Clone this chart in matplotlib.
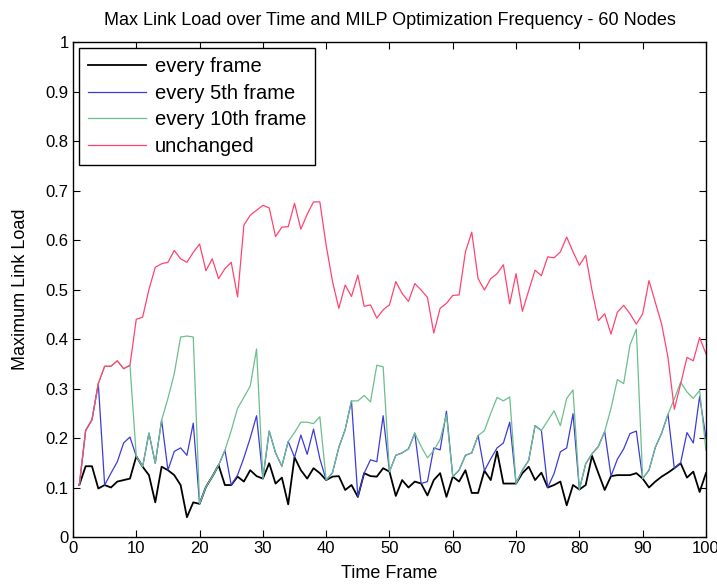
import matplotlib
matplotlib.use("Agg")
import matplotlib.pyplot as plt

frames = list(range(1, 101))

every_frame = [
    0.105, 0.143, 0.143, 0.098, 0.105, 0.100, 0.112, 0.115, 0.118, 0.163,
    0.142, 0.125, 0.070, 0.142, 0.135, 0.125, 0.105, 0.040, 0.070, 0.067,
    0.101, 0.122, 0.145, 0.105, 0.105, 0.122, 0.112, 0.135, 0.123, 0.118,
    0.149, 0.108, 0.120, 0.066, 0.161, 0.135, 0.118, 0.139, 0.129, 0.115,
    0.122, 0.123, 0.095, 0.105, 0.081, 0.129, 0.123, 0.122, 0.139, 0.132,
    0.083, 0.115, 0.100, 0.112, 0.108, 0.084, 0.115, 0.129, 0.081, 0.122,
    0.112, 0.135, 0.089, 0.089, 0.134, 0.115, 0.173, 0.108, 0.108, 0.108,
    0.129, 0.142, 0.115, 0.130, 0.100, 0.105, 0.112, 0.064, 0.105, 0.096,
    0.105, 0.164, 0.129, 0.095, 0.123, 0.125, 0.125, 0.125, 0.129, 0.118,
    0.100, 0.112, 0.122, 0.130, 0.139, 0.149, 0.120, 0.132, 0.091, 0.129,
]

every_5th = [
    0.105, 0.215, 0.237, 0.310, 0.105, 0.129, 0.152, 0.190, 0.202, 0.163,
    0.142, 0.210, 0.149, 0.236, 0.135, 0.173, 0.180, 0.165, 0.230, 0.067,
    0.101, 0.122, 0.145, 0.175, 0.105, 0.125, 0.160, 0.200, 0.245, 0.118,
    0.214, 0.170, 0.143, 0.193, 0.161, 0.206, 0.167, 0.218, 0.158, 0.115,
    0.130, 0.181, 0.217, 0.275, 0.081, 0.129, 0.156, 0.152, 0.245, 0.132,
    0.165, 0.170, 0.178, 0.210, 0.108, 0.112, 0.180, 0.176, 0.254, 0.122,
    0.135, 0.165, 0.170, 0.205, 0.134, 0.158, 0.180, 0.190, 0.232, 0.108,
    0.135, 0.155, 0.225, 0.215, 0.100, 0.128, 0.172, 0.180, 0.249, 0.096,
    0.148, 0.168, 0.183, 0.213, 0.123, 0.157, 0.178, 0.209, 0.214, 0.118,
    0.135, 0.181, 0.210, 0.248, 0.139, 0.150, 0.211, 0.190, 0.284, 0.200,
]

every_10th = [
    0.105, 0.215, 0.237, 0.310, 0.345, 0.345, 0.356, 0.340, 0.347, 0.163,
    0.142, 0.210, 0.149, 0.236, 0.280, 0.330, 0.404, 0.406, 0.404, 0.067,
    0.101, 0.122, 0.145, 0.175, 0.215, 0.260, 0.282, 0.305, 0.380, 0.118,
    0.214, 0.170, 0.143, 0.193, 0.211, 0.232, 0.232, 0.229, 0.243, 0.115,
    0.130, 0.181, 0.217, 0.275, 0.275, 0.286, 0.273, 0.347, 0.344, 0.132,
    0.165, 0.170, 0.178, 0.210, 0.183, 0.160, 0.175, 0.197, 0.247, 0.122,
    0.135, 0.165, 0.170, 0.205, 0.215, 0.250, 0.282, 0.275, 0.283, 0.108,
    0.135, 0.155, 0.225, 0.215, 0.235, 0.255, 0.225, 0.280, 0.297, 0.096,
    0.148, 0.168, 0.183, 0.213, 0.260, 0.318, 0.310, 0.388, 0.420, 0.118,
    0.135, 0.181, 0.210, 0.248, 0.279, 0.313, 0.293, 0.280, 0.296, 0.175,
]

unchanged = [
    0.105, 0.215, 0.237, 0.310, 0.345, 0.345, 0.356, 0.340, 0.347, 0.440,
    0.444, 0.500, 0.545, 0.552, 0.555, 0.579, 0.562, 0.555, 0.575, 0.592,
    0.538, 0.562, 0.522, 0.542, 0.555, 0.485, 0.630, 0.650, 0.660, 0.670,
    0.665, 0.607, 0.626, 0.627, 0.674, 0.622, 0.652, 0.677, 0.677, 0.589,
    0.516, 0.462, 0.509, 0.486, 0.529, 0.466, 0.469, 0.442, 0.459, 0.469,
    0.516, 0.492, 0.476, 0.512, 0.499, 0.484, 0.412, 0.462, 0.472, 0.488,
    0.489, 0.576, 0.616, 0.522, 0.499, 0.522, 0.532, 0.550, 0.471, 0.532,
    0.456, 0.498, 0.539, 0.528, 0.566, 0.564, 0.576, 0.606, 0.576, 0.549,
    0.569, 0.498, 0.437, 0.451, 0.410, 0.454, 0.468, 0.451, 0.430, 0.451,
    0.518, 0.474, 0.430, 0.363, 0.258, 0.309, 0.363, 0.356, 0.403, 0.370,
]

labels = ["every frame", "every 5th frame", "every 10th frame", "unchanged"]
colors = ["#000000", "#3c3cd8", "#6cbf8c", "#ff4470"]

xticks = list(range(0, 101, 10))
yticks = [0, 0.1, 0.2, 0.3, 0.4, 0.5, 0.6, 0.7, 0.8, 0.9, 1]
ytick_labels = ["0", "0.1", "0.2", "0.3", "0.4", "0.5", "0.6", "0.7", "0.8", "0.9", "1"]

plt.rcParams['font.family'] = ['Liberation Sans', 'DejaVu Sans']

fig = plt.figure(figsize=(7.17, 5.86), dpi=100)
ax = fig.add_axes([0.1018, 0.0836, 0.8828, 0.8447])

ax.plot(frames, every_frame, color=colors[0], lw=1.3, label=labels[0])
ax.plot(frames, every_5th, color=colors[1], lw=0.9, label=labels[1])
ax.plot(frames, every_10th, color=colors[2], lw=0.9, label=labels[2])
ax.plot(frames, unchanged, color=colors[3], lw=0.9, label=labels[3])

ax.set_xlim(0, 100)
ax.set_ylim(0, 1)
ax.set_xticks(xticks)
ax.set_yticks(yticks)
ax.set_yticklabels(ytick_labels)
ax.tick_params(direction="in", top=True, right=True, labelsize=12, length=5, pad=3)
for s in ax.spines.values():
    s.set_linewidth(1.0)

ax.set_title("Max Link Load over Time and MILP Optimization Frequency - 60 Nodes",
             fontsize=13, pad=12)
ax.set_xlabel("Time Frame", fontsize=13, labelpad=6)
ax.set_ylabel("Maximum Link Load", fontsize=13, labelpad=12)

leg = ax.legend(loc="upper left", fontsize=14.5, handlelength=2.9, handletextpad=0.4,
                fancybox=False, framealpha=1, edgecolor="black", borderaxespad=0.3,
                labelspacing=0.38, borderpad=0.45)
leg.get_frame().set_linewidth(1.0)

fig.savefig("out.png", dpi=100)
